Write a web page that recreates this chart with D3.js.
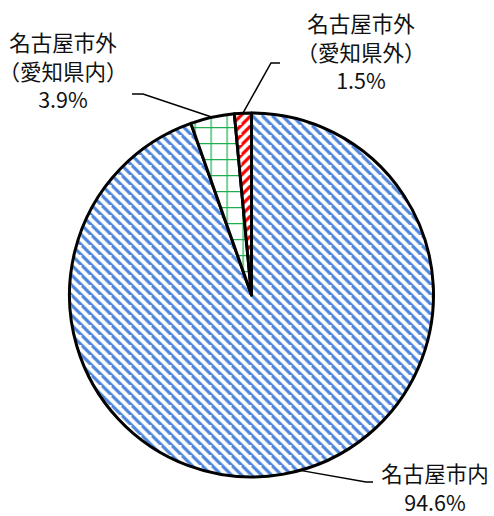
<!DOCTYPE html>
<html>
<head>
<meta charset="utf-8">
<script src="https://cdn.jsdelivr.net/npm/d3@7"></script>
<style>
  body { margin: 0; background: #fff; }
  text { font-family: "Noto Sans CJK JP", sans-serif; font-size: 21.5px; fill: #111; font-feature-settings: "halt"; }
</style>
</head>
<body>
<div id="pie"></div>
<script>
// data, clockwise from 12 o'clock
var categories = ["名古屋市内", "名古屋市外（愛知県内）", "名古屋市外（愛知県外）"];
var shares = [94.6, 3.9, 1.5];
var labelLines = [["名古屋市内", "94.6%"], ["名古屋市外", "（愛知県内）", "3.9%"], ["名古屋市外", "（愛知県外）", "1.5%"]];

var W = 494, H = 516;
var cx = 251.5, cy = 295, r = 182;

var svg = d3.select("#pie")
      .append("svg")
      .attr("width", W)
      .attr("height", H);

var defs = svg.append("defs");

// wide downward diagonal - blue
var pb = defs.append("pattern")
      .attr("id", "pat0")
      .attr("patternUnits", "userSpaceOnUse")
      .attr("width", 10).attr("height", 10);
pb.append("rect").attr("width", 10).attr("height", 10).attr("fill", "#fff");
pb.append("path")
      .attr("d", "M-5,-5L15,15M-15,-5L5,15M5,-15L25,5")
      .attr("stroke", "#4f86dc")
      .attr("stroke-width", 3.2);

// grid - green
var pg = defs.append("pattern")
      .attr("id", "pat1")
      .attr("patternUnits", "userSpaceOnUse")
      .attr("x", 7).attr("y", 8)
      .attr("width", 16).attr("height", 16);
pg.append("rect").attr("width", 16).attr("height", 16).attr("fill", "#fff");
pg.append("path")
      .attr("d", "M0,0V16M0,0H16")
      .attr("stroke", "#1fae4f")
      .attr("stroke-width", 2.4);

// upward diagonal - red
var pr = defs.append("pattern")
      .attr("id", "pat2")
      .attr("patternUnits", "userSpaceOnUse")
      .attr("width", 10).attr("height", 10);
pr.append("rect").attr("width", 10).attr("height", 10).attr("fill", "#fff");
pr.append("path")
      .attr("d", "M-5,15L15,-5M-15,15L5,-5M5,25L25,5")
      .attr("stroke", "#ff0000")
      .attr("stroke-width", 3.2);

var pie = d3.pie().sort(null).value(function(d) { return d; });
var arcs = pie(shares);

var arc = d3.arc().innerRadius(0).outerRadius(r);

var g = svg.append("g").attr("transform", "translate(" + cx + "," + cy + ")");

g.selectAll("path.slice")
  .data(arcs)
  .enter()
  .append("path")
  .attr("class", "slice")
  .attr("d", arc)
  .attr("fill", function(d, i) { return "url(#pat" + i + ")"; })
  .attr("stroke", "#000")
  .attr("stroke-width", 3)
  .attr("stroke-linejoin", "round");

// label layout: text centre x, first line centre y, leader elbow, leader tail
var labelPos = [
  {x: 435, y: 474, t: 0.483, elbow: [366, 482], tail: [373, 482]},
  {x: 63, y: 43, t: 0.5, elbow: [143, 94], tail: [132, 94]},
  {x: 361, y: 24, t: 0.5, elbow: [271, 63], tail: [280, 63]}
];
var lineGap = 28.5;

arcs.forEach(function(a, i) {
  var p = labelPos[i];
  var ang = a.startAngle + (a.endAngle - a.startAngle) * p.t;
  var ex = cx + r * Math.sin(ang), ey = cy - r * Math.cos(ang);

  svg.append("path")
    .attr("d", d3.line()([[ex, ey], p.elbow, p.tail]))
    .attr("fill", "none")
    .attr("stroke", "#000")
    .attr("stroke-width", 1.5);

  svg.append("text")
    .attr("text-anchor", "middle")
    .selectAll("tspan")
    .data(labelLines[i])
    .enter()
    .append("tspan")
    .attr("x", p.x)
    .attr("y", function(d, j) { return p.y + j * lineGap + 8; })
    .text(function(d) { return d; });
});
</script>
</body>
</html>
